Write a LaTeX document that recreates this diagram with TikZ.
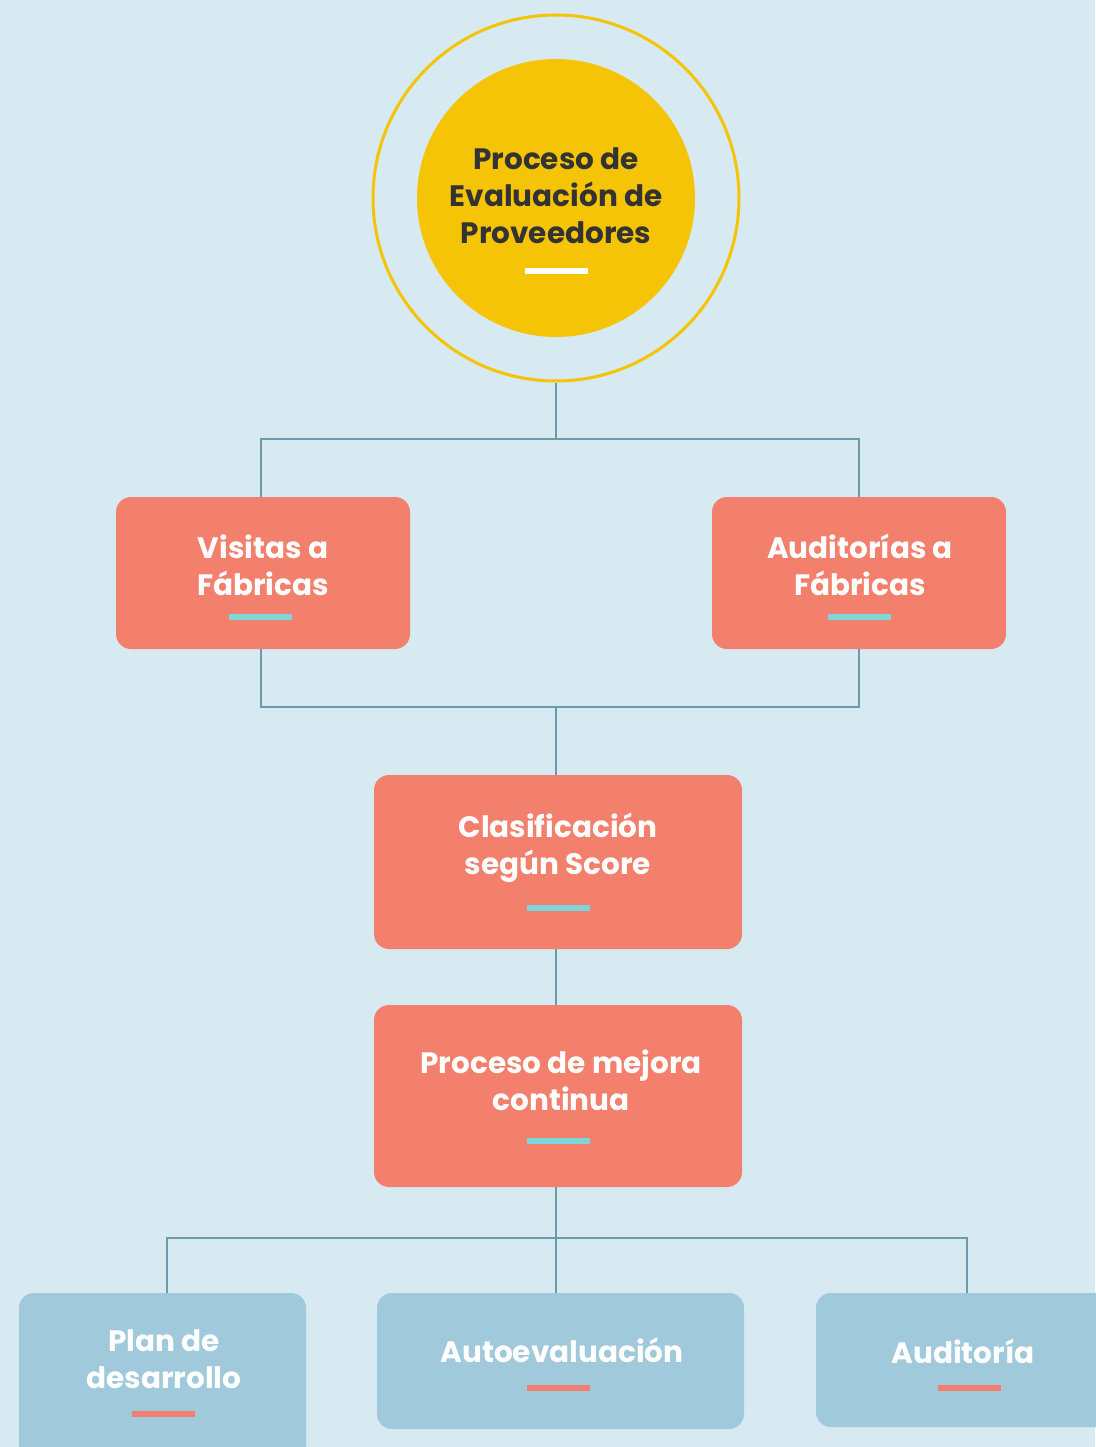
\documentclass[tikz,border=0pt]{standalone}
\usepackage{fontspec}
\setmainfont{Poppins}
\definecolor{bgc}{HTML}{D7E9F1}
\definecolor{salmon}{HTML}{F37F6D}
\definecolor{lblue}{HTML}{A0C9DB}
\definecolor{conn}{HTML}{6C9AAB}
\definecolor{gold}{HTML}{F5C406}
\definecolor{darktxt}{HTML}{333333}
\definecolor{cyanbar}{HTML}{7ED6DA}
\tikzset{
  sbox/.style={rectangle, rounded corners=15pt, fill=salmon, draw=none, inner sep=0pt},
  bbox/.style={rectangle, rounded corners=15pt, fill=lblue, draw=none, inner sep=0pt},
  lbl/.style={text=white, font=\fontsize{29.5}{37}\selectfont\bfseries, align=center, inner sep=0pt},
  conline/.style={draw=conn, line width=2.8pt},
  bar/.style={rectangle, minimum width=63pt, minimum height=6pt, inner sep=0pt, draw=none},
}
\begin{document}
\begin{tikzpicture}[x=1pt,y=-1pt]
\useasboundingbox[fill=bgc] (0,0) rectangle (1095,1447);
% central circles
\node[circle, draw=gold, line width=3pt, minimum size=366pt, inner sep=0pt] (outer) at (556,198) {};
\node[circle, fill=gold, minimum size=278pt, inner sep=0pt] (inner) at (556,198) {};
\node[lbl, text=darktxt] (t0) at (556,196) {Proceso de\\Evaluación de\\Proveedores};
\node[bar, fill=white] (b0) at (556,271) {};
% boxes
\node[sbox, minimum width=294pt, minimum height=152pt] (vis) at (263,573) {};
\node[sbox, minimum width=294pt, minimum height=152pt] (aud) at (859,573) {};
\node[sbox, minimum width=368pt, minimum height=174pt] (cla) at (558,862) {};
\node[sbox, minimum width=368pt, minimum height=182pt] (mej) at (558,1096) {};
\node[bbox, minimum width=287pt, minimum height=170pt] (plan) at (162.5,1378) {};
\node[bbox, minimum width=367pt, minimum height=136pt] (auto) at (560.5,1361) {};
\node[bbox, minimum width=300pt, minimum height=134pt] (audi) at (966,1360) {};
% labels
\node[lbl] (t1) at (263,565) {Visitas a\\Fábricas};
\node[bar, fill=cyanbar] at (260,617) {};
\node[lbl] (t2) at (860,565) {Auditorías a\\Fábricas};
\node[bar, fill=cyanbar] at (859,617) {};
\node[lbl] (t3) at (558,848) {Clasificación\\según Score};
\node[bar, fill=cyanbar] at (558,908) {};
\node[lbl] (t4) at (561,1080) {Proceso de mejora\\continua};
\node[bar, fill=cyanbar] at (558,1141) {};
\node[lbl] (t5) at (164,1359) {Plan de\\desarrollo};
\node[bar, fill=salmon] at (163,1414) {};
\node[lbl] (t6) at (562,1350) {Autoevaluación};
\node[bar, fill=salmon] at (558,1388) {};
\node[lbl] (t7) at (963,1351) {Auditoría};
\node[bar, fill=salmon] at (969,1388) {};
% connectors
\coordinate (j1) at (556,439);
\coordinate (j2) at (556,707);
\coordinate (j3) at (556,1238);
\draw[conline] (outer.south) -- (j1);
\draw[conline] (vis.north -| 261,0) |- (j1) -| (aud.north);
\draw[conline] (vis.south -| 261,0) |- (j2) -| (aud.south);
\draw[conline] (j2) -- (cla.north -| j2);
\draw[conline] (cla.south -| j2) -- (mej.north -| j2);
\draw[conline] (mej.south -| j2) -- (j3);
\draw[conline] (plan.north -| 167,0) |- (j3) -| (audi.north -| 967,0);
\draw[conline] (j3) -- (auto.north -| j3);
\end{tikzpicture}
\end{document}
